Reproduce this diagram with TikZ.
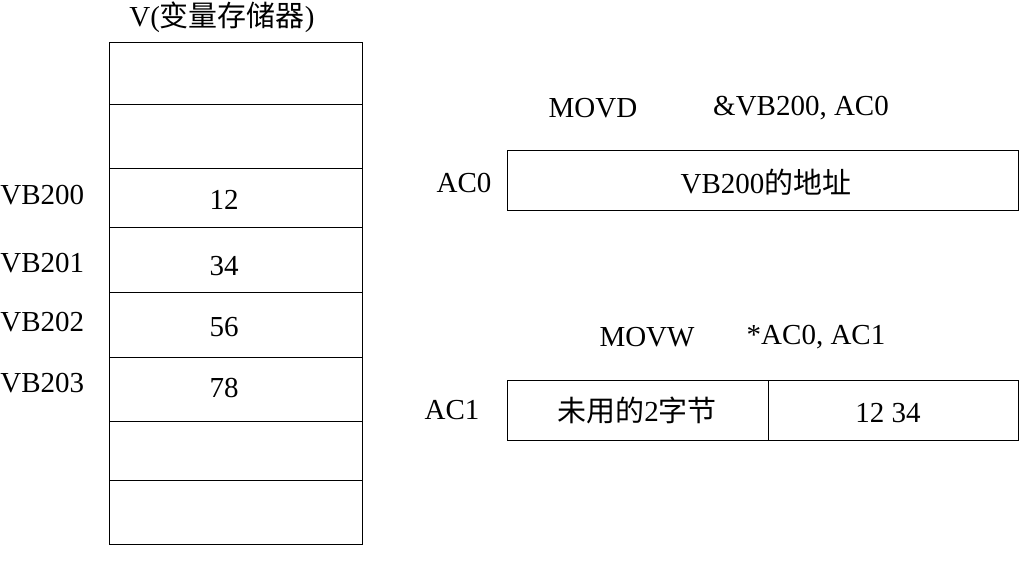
\documentclass[tikz,border=0pt]{standalone}
\usepackage{fontspec}
\setmainfont{Liberation Serif}
\newfontfamily\cjk{Noto Sans CJK SC}

\begin{document}
\begin{tikzpicture}[x=0.02cm, y=-0.02cm, font=\fontsize{16.5}{19}\selectfont,
    cell/.style={draw, rectangle, line width=0.8pt, anchor=north west, minimum width=5.06cm, inner sep=0pt},
    reg/.style={draw, rectangle, line width=0.8pt, anchor=north west, minimum height=1.2cm, inner sep=0pt}]
    \useasboundingbox (0,0) rectangle (1021,567);

    % V memory
    \node (title) at (222,17) {V({\cjk 变量存储器})};
    \foreach \t/\b/\v/\n in {42/104//m0, 104/168//m1, 168/227/12/m2, 227/292/34/m3,
        292/357/56/m4, 357/421/78/m5, 421/480//m6, 480/544//m7}
        \node[cell, minimum height={(\b-\t)*0.02cm}] (\n) at (109,\t) {};
    \node (v12) at (224,200) {12};
    \node (v34) at (224,266) {34};
    \node (v56) at (224,327) {56};
    \node (v78) at (224,388) {78};

    \node[anchor=west, inner sep=0pt] (vb200) at (0,195) {VB200};
    \node[anchor=west, inner sep=0pt] (vb201) at (0,263) {VB201};
    \node[anchor=west, inner sep=0pt] (vb202) at (0,322) {VB202};
    \node[anchor=west, inner sep=0pt] (vb203) at (0,383) {VB203};

    % MOVD
    \node (movd) at (593,108) {MOVD};
    \node (movdarg) at (801,108) {\&VB200, AC0};
    \node[reg, minimum width=10.22cm] (ac0) at (507,150) {};
    \node (ac0txt) at (766,182) {VB200{\cjk 的地址}};
    \node (ac0lbl) at (464,183) {AC0};

    % MOVW
    \node (movw) at (647,337) {MOVW};
    \node (movwarg) at (816,337) {*AC0, AC1};
    \node[reg, minimum width=5.22cm] (ac1hi) at (507,380) {};
    \node[reg, minimum width=5.0cm] (ac1lo) at (768,380) {};
    \node (hitxt) at (637,410) {{\cjk 未用的}2{\cjk 字节}};
    \node (lotxt) at (888,413) {12 34};
    \node (ac1lbl) at (452,410) {AC1};
\end{tikzpicture}
\end{document}
